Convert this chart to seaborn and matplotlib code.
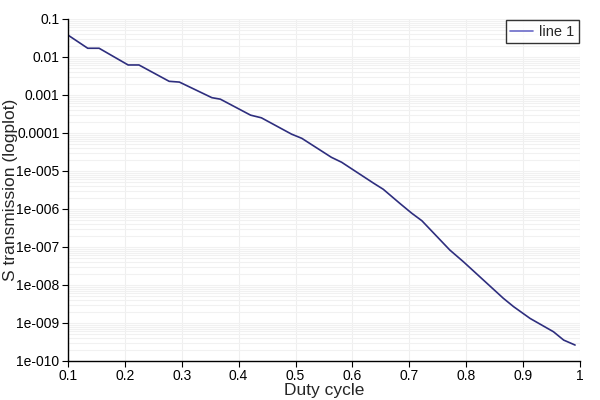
import seaborn as sns
import matplotlib.pyplot as plt
import matplotlib.ticker as mticker
import pandas as pd
import numpy as np

# values (x = duty cycle, log10 of transmission)
duty_cycle = [0.100, 0.135, 0.155, 0.206, 0.225, 0.278, 0.296, 0.353, 0.368,
              0.421, 0.440, 0.493, 0.511, 0.563, 0.581, 0.637, 0.654, 0.683,
              0.704, 0.722, 0.771, 0.795, 0.865, 0.883, 0.912, 0.953, 0.971, 0.991]
log_trans = [-1.42, -1.77, -1.77, -2.21, -2.21, -2.64, -2.66, -3.07, -3.11,
             -3.53, -3.60, -4.03, -4.14, -4.64, -4.77, -5.32, -5.48, -5.85,
             -6.11, -6.31, -7.08, -7.39, -8.35, -8.57, -8.88, -9.23, -9.45, -9.58]

y_ticks = [1e-10, 1e-9, 1e-8, 1e-7, 1e-6, 1e-5, 1e-4, 1e-3, 1e-2, 1e-1]
y_labels = ['1e-010', '1e-009', '1e-008', '1e-007', '1e-006', '1e-005',
            '0.0001', '0.001', '0.01', '0.1']
x_ticks = [0.1, 0.2, 0.3, 0.4, 0.5, 0.6, 0.7, 0.8, 0.9, 1.0]
x_labels = ['0.1', '0.2', '0.3', '0.4', '0.5', '0.6', '0.7', '0.8', '0.9', '1']

df = pd.DataFrame({'Duty cycle': duty_cycle,
                   'S': [10 ** v for v in log_trans]})

sns.set_style("white")
plt.rcParams['font.family'] = ['Liberation Sans', 'DejaVu Sans']

fig = plt.figure(figsize=(6, 4), dpi=100)
ax = fig.add_axes([0.113, 0.0975, 0.854, 0.855])

sns.lineplot(data=df, x='Duty cycle', y='S', ax=ax, color='#2e2e7e',
             linewidth=1.2, label='line 1')

ax.set_yscale('log')
ax.set_xlim(0.1, 1.0)
ax.set_ylim(1e-10, 0.1)

ax.set_yticks(y_ticks)
ax.set_yticklabels(y_labels)
ax.yaxis.set_minor_locator(mticker.LogLocator(base=10, subs=np.arange(2, 10), numticks=20))
ax.yaxis.set_minor_formatter(mticker.NullFormatter())
ax.set_xticks(x_ticks)
ax.set_xticklabels(x_labels)

ax.tick_params(axis='both', which='major', labelsize=10, direction='out',
               length=4, width=0.8, colors='black', pad=2)
ax.tick_params(axis='y', which='minor', direction='out', length=3, width=0.6, color='#444444')
ax.tick_params(left=True, bottom=True)

ax.grid(True, which='major', axis='x', color='#efefef', linewidth=0.8)
ax.grid(True, which='both', axis='y', color='#f1f1f1', linewidth=0.8)

for s in ['top', 'right']:
    ax.spines[s].set_visible(False)
for s in ['left', 'bottom']:
    ax.spines[s].set_color('black')
    ax.spines[s].set_linewidth(1.0)

ax.set_xlabel('Duty cycle', fontsize=12.5, labelpad=0)
ax.set_ylabel('S transmission (logplot)', fontsize=12.5)
ax.yaxis.set_label_coords(-0.098, 0.5)

leg = ax.legend(loc='upper right', fontsize=10.5, frameon=True, fancybox=False,
                edgecolor='black', handlelength=1.6, handletextpad=0.4,
                borderpad=0.3, borderaxespad=0.1, bbox_to_anchor=(1.0, 1.0))
leg.get_frame().set_linewidth(1.0)
leg.get_lines()[0].set_color('#6a6ac8')

plt.savefig('out.png', dpi=100)
